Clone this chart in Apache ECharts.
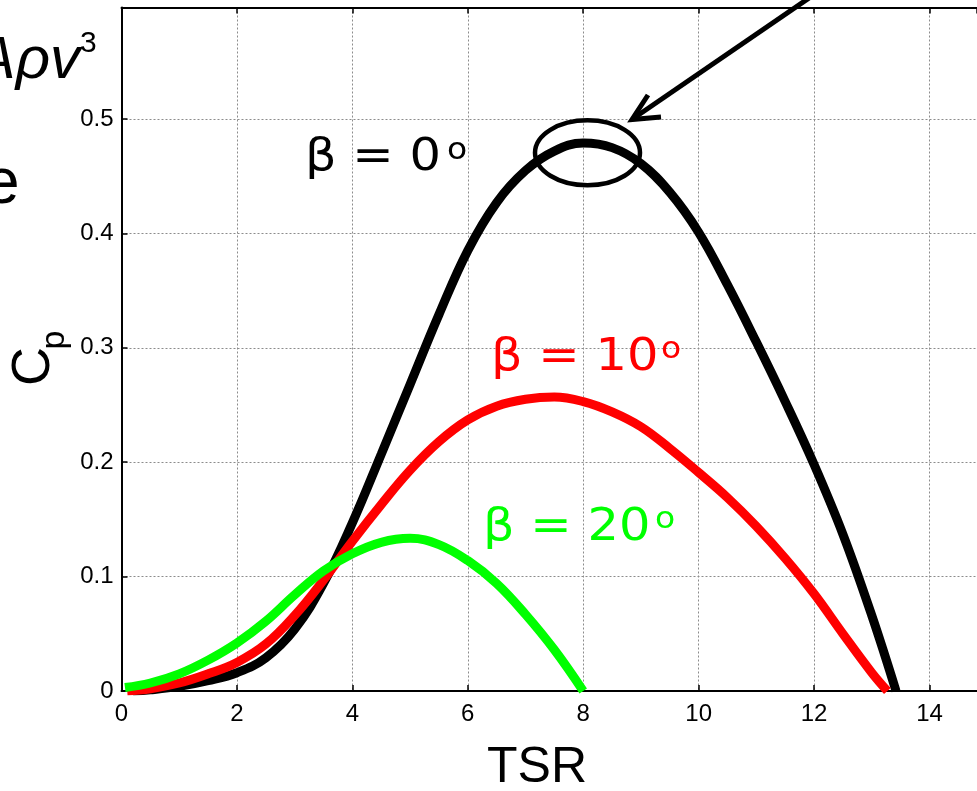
<!DOCTYPE html>
<html><head><meta charset="utf-8">
<script src="https://cdn.jsdelivr.net/npm/echarts@6/dist/echarts.min.js"></script>
<style>html,body{margin:0;padding:0;background:#fff;overflow:hidden}#c{width:977px;height:791px}</style>
</head><body><div id="c"></div>
<script>
// ---- data ----
const tsrBeta0 = [0.2, 0.5, 1.0, 1.5, 2.0, 2.5, 3.0, 3.5, 4.0, 4.5, 5.0, 5.5, 6.0, 6.5, 7.0, 7.5, 8.0, 8.5, 9.0, 9.5, 10.0, 10.5, 11.0, 11.5, 12.0, 12.5, 13.0, 13.42];
const cpBeta0  = [0.0, 0.001, 0.004, 0.009, 0.016, 0.029, 0.054, 0.094, 0.147, 0.207, 0.268, 0.329, 0.385, 0.427, 0.455, 0.472, 0.479, 0.475, 0.461, 0.436, 0.401, 0.355, 0.305, 0.253, 0.198, 0.137, 0.066, 0.0];
const tsrBeta10 = [0.1, 0.5, 1.0, 1.5, 2.0, 2.5, 3.0, 3.5, 4.0, 4.5, 5.0, 5.5, 6.0, 6.5, 7.0, 7.5, 8.0, 8.5, 9.0, 9.5, 10.0, 10.5, 11.0, 11.5, 12.0, 12.5, 13.0, 13.27];
const cpBeta10  = [0.0, 0.002, 0.007, 0.015, 0.025, 0.041, 0.066, 0.097, 0.131, 0.163, 0.193, 0.218, 0.237, 0.249, 0.255, 0.257, 0.253, 0.244, 0.231, 0.212, 0.191, 0.169, 0.144, 0.116, 0.085, 0.050, 0.016, 0.0];
const tsrBeta20 = [0.06, 0.5, 1.0, 1.5, 2.0, 2.5, 3.0, 3.5, 4.0, 4.5, 5.0, 5.5, 6.0, 6.5, 7.0, 7.5, 8.0];
const cpBeta20  = [0.003, 0.007, 0.015, 0.027, 0.042, 0.061, 0.084, 0.105, 0.120, 0.130, 0.1335, 0.128, 0.114, 0.094, 0.067, 0.036, 0.0];
const seriesNames = ['β = 0', 'β = 10', 'β = 20'];
const seriesColors = ['#000000', '#ff0000', '#00ff00'];
const xTickStep = 2;
const yTickStep = 0.1;
const xLabel = 'TSR';

const zip = (a, b) => a.map((v, i) => [v, b[i]]);
const FONT = 'Liberation Sans, Arial, sans-serif';
const chart = echarts.init(document.getElementById('c'));

const xMax = 14.823, yMax = 0.5975;
const axisBase = {
  axisLine: { show: true, onZero: false, lineStyle: { color: '#000', width: 2 } },
  axisTick: { show: true, inside: true, length: 6, lineStyle: { color: '#000', width: 1.5 } }
};
const grid = { left: 121.5, top: 7.5, right: -2, bottom: 100, containLabel: false };

const option = {
  animation: false,
  backgroundColor: '#fff',
  grid: grid,
  xAxis: [
    Object.assign({}, axisBase, {
      type: 'value', min: 0, max: xMax, interval: xTickStep, position: 'bottom',
      axisLabel: { color: '#000', fontSize: 24, fontFamily: FONT, margin: 11, showMaxLabel: false,
        formatter: v => (v > 14.5 ? '' : String(v)) },
      splitLine: { show: true, lineStyle: { color: '#8c8c8c', width: 1, type: [2, 2] } }
    }),
    Object.assign({}, axisBase, {
      type: 'value', min: 0, max: xMax, interval: xTickStep, position: 'top',
      axisLabel: { show: false }, splitLine: { show: false }
    })
  ],
  yAxis: Object.assign({}, axisBase, {
    type: 'value', min: 0, max: yMax, interval: yTickStep,
    axisLabel: { color: '#000', fontSize: 24, fontFamily: FONT, margin: 8, showMaxLabel: false,
      formatter: v => (v > 0.55 ? '' : (v === 0 ? '0' : v.toFixed(1))) },
    splitLine: { show: true, lineStyle: { color: '#8c8c8c', width: 1, type: [2, 2] } }
  }),
  series: [
    { name: seriesNames[0], type: 'line', data: zip(tsrBeta0, cpBeta0) },
    { name: seriesNames[1], type: 'line', data: zip(tsrBeta10, cpBeta10) },
    { name: seriesNames[2], type: 'line', data: zip(tsrBeta20, cpBeta20) }
  ].map((s, i) => Object.assign(s, {
    showSymbol: false, smooth: 0.4, xAxisIndex: 0,
    lineStyle: { color: seriesColors[i], width: 9 }, itemStyle: { color: seriesColors[i] }
  }))
};
chart.setOption(option);

// annotations
const DV = 'DejaVu Sans, Verdana, sans-serif';
function label(txt, sup, color, x, yMid, supX, supY) {
  return [
    { type: 'text', x: x, y: yMid, scaleX: 1.1, style: { text: txt, fill: color, font: '45px ' + DV, textAlign: 'left', textVerticalAlign: 'middle' } },
    { type: 'text', x: supX, y: supY, scaleX: 1.1, style: { text: sup, fill: color, font: '30px ' + DV, textAlign: 'left', textVerticalAlign: 'middle' } }
  ];
}
const graphics = [].concat(
  label(seriesNames[0], 'o', seriesColors[0], 305, 158.4, 447, 151),
  label(seriesNames[1], 'o', seriesColors[1], 491, 358.3, 661, 350),
  label(seriesNames[2], 'o', seriesColors[2], 483, 528.3, 655, 520),
  [
    { type: 'ellipse', shape: { cx: 587.5, cy: 152.8, rx: 52.5, ry: 32.5 }, style: { fill: null, stroke: '#000', lineWidth: 4.5 } },
    { type: 'line', shape: { x1: 812, y1: -4, x2: 634, y2: 118 }, style: { stroke: '#000', lineWidth: 5 } },
    { type: 'polyline', shape: { points: [[648, 95], [632, 119.5], [661, 117]] }, style: { stroke: '#000', lineWidth: 5, fill: null } },
    { type: 'text', x: 537, y: 768.5, style: { text: xLabel, fill: '#000', font: '50px ' + FONT, textAlign: 'center', textVerticalAlign: 'middle' } },
    { type: 'text', x: 34, y: 366.5, rotation: Math.PI / 2, style: { text: 'C', fill: '#000', font: '54px ' + FONT, textAlign: 'center', textVerticalAlign: 'middle' } },
    { type: 'text', x: 55, y: 340, rotation: Math.PI / 2, style: { text: 'p', fill: '#000', font: '34px ' + FONT, textAlign: 'center', textVerticalAlign: 'middle' } },
    { type: 'text', x: 80, y: 61, style: { text: 'Aρv', fill: '#000', font: 'italic 60px ' + FONT, textAlign: 'right', textVerticalAlign: 'middle' } },
    { type: 'text', x: 80, y: 44, style: { text: '3', fill: '#000', font: '30px ' + FONT, textAlign: 'left', textVerticalAlign: 'middle' } },
    { type: 'text', x: 19.5, y: 185, style: { text: 'e', fill: '#000', font: '64px ' + FONT, textAlign: 'right', textVerticalAlign: 'middle' } }
  ]
);
chart.setOption({ graphic: graphics });
</script></body></html>
